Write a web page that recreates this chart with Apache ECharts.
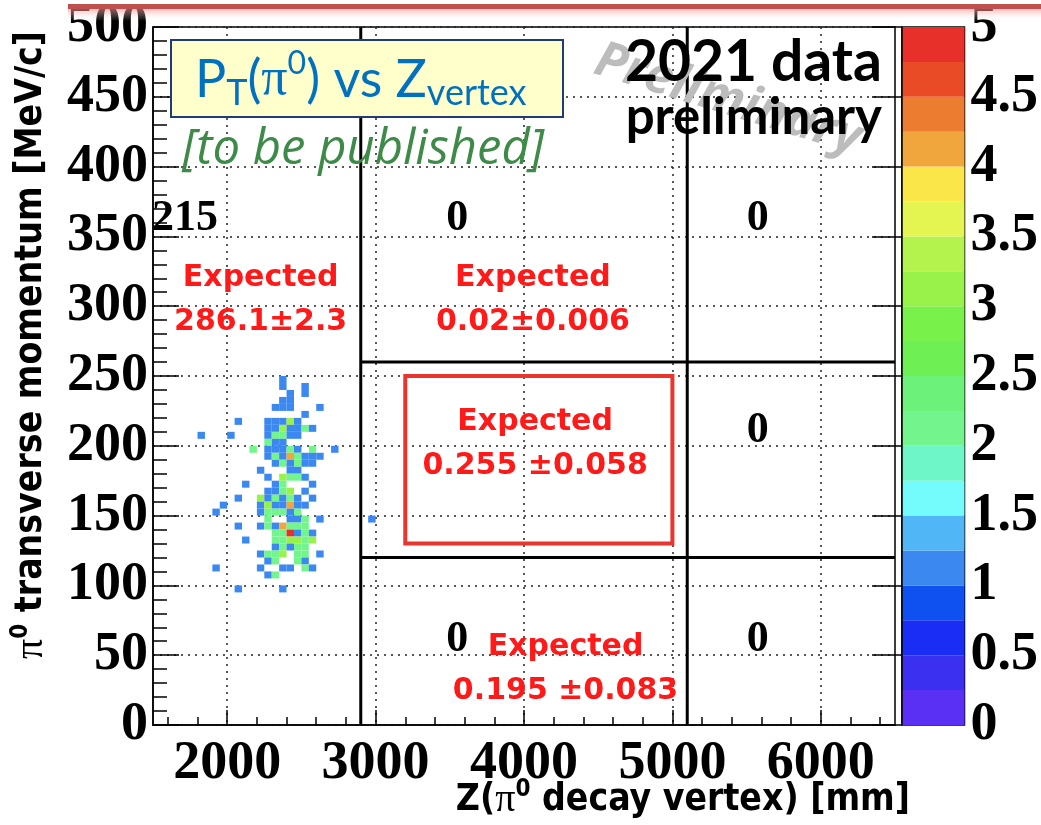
<!DOCTYPE html>
<html>
<head>
<meta charset="utf-8">
<title>PT vs Zvertex</title>
<script src="https://cdn.jsdelivr.net/npm/echarts@6.0.0/dist/echarts.min.js"></script>
<style>
  html, body { margin: 0; padding: 0; background: #fff; }
  #chart { width: 1041px; height: 825px; }
</style>
</head>
<body>
<div id="chart"></div>
<script>
// bin size of the 2D histogram
const binZ = 50;   // mm
const binPt = 5;   // MeV/c

// [Z bin low edge (mm), pT bin low edge (MeV/c), entries]
const cellCounts = [
  [2350, 245, 1],
  [2350, 240, 1], [2500, 240, 1],
  [2400, 235, 1], [2500, 235, 1],
  [2350, 230, 1], [2400, 230, 1],
  [2300, 225, 1], [2350, 225, 1], [2400, 225, 1], [2600, 225, 1],
  [2500, 220, 1],
  [2050, 215, 1], [2250, 215, 1], [2300, 215, 1], [2350, 215, 1], [2400, 215, 3], [2450, 215, 1],
  [2250, 210, 1], [2300, 210, 1], [2350, 210, 3], [2400, 210, 1], [2450, 210, 1], [2500, 210, 2], [2550, 210, 1],
  [1800, 205, 1], [2000, 205, 1], [2250, 205, 1], [2300, 205, 2], [2350, 205, 2], [2400, 205, 1], [2450, 205, 1],
  [2250, 200, 2], [2300, 200, 1], [2350, 200, 1],
  [2150, 195, 2], [2250, 195, 1], [2300, 195, 1], [2350, 195, 1], [2400, 195, 2], [2450, 195, 1], [2550, 195, 2], [2700, 195, 1],
  [2250, 190, 1], [2300, 190, 2], [2350, 190, 1], [2400, 190, 4], [2450, 190, 2], [2500, 190, 1], [2550, 190, 1], [2600, 190, 1],
  [2300, 185, 1], [2350, 185, 2], [2400, 185, 1], [2450, 185, 2], [2500, 185, 1], [2550, 185, 1],
  [2200, 180, 1], [2400, 180, 1], [2450, 180, 1],
  [2250, 175, 1], [2350, 175, 3], [2400, 175, 2], [2450, 175, 2], [2500, 175, 1],
  [2100, 170, 1], [2300, 170, 1], [2350, 170, 2], [2550, 170, 1],
  [2250, 165, 1], [2300, 165, 1], [2350, 165, 2], [2400, 165, 3], [2500, 165, 1],
  [2050, 160, 1], [2200, 160, 3], [2250, 160, 1], [2300, 160, 2], [2350, 160, 1], [2400, 160, 2], [2450, 160, 1], [2550, 160, 1],
  [1950, 155, 1], [2200, 155, 1], [2250, 155, 3], [2300, 155, 1], [2350, 155, 1], [2400, 155, 4], [2450, 155, 1], [2500, 155, 1],
  [1900, 150, 1], [2200, 150, 1], [2250, 150, 2], [2300, 150, 2], [2350, 150, 2], [2400, 150, 1], [2450, 150, 2],
  [2250, 145, 2], [2400, 145, 1], [2450, 145, 1], [2500, 145, 2], [2600, 145, 1], [2950, 145, 1],
  [2050, 140, 1], [2200, 140, 1], [2250, 140, 2], [2300, 140, 1], [2350, 140, 4], [2400, 140, 2], [2450, 140, 2], [2500, 140, 2],
  [2300, 135, 2], [2350, 135, 2], [2400, 135, 5], [2450, 135, 1], [2500, 135, 2], [2550, 135, 1],
  [2100, 130, 1], [2300, 130, 2], [2350, 130, 2], [2400, 130, 3], [2450, 130, 3], [2500, 130, 2], [2550, 130, 3],
  [2300, 125, 1], [2350, 125, 2], [2400, 125, 1], [2450, 125, 2], [2500, 125, 2],
  [2200, 120, 1], [2250, 120, 2], [2300, 120, 2], [2350, 120, 3], [2450, 120, 2], [2500, 120, 2], [2600, 120, 1],
  [2250, 115, 1], [2300, 115, 2], [2450, 115, 2], [2500, 115, 1],
  [1900, 110, 1], [2200, 110, 1], [2350, 110, 1], [2400, 110, 1], [2500, 110, 2], [2550, 110, 1],
  [2250, 105, 1], [2300, 105, 2],
  [2050, 95, 1], [2350, 95, 1]
];

// palette (0 -> 5, step 0.25)
const paletteStep = 0.25;
const paletteColors = [
  '#5a30f5', '#3b2ff0', '#1a2df5', '#0f50f0', '#3a88f0',
  '#50b6f5', '#74fbfb', '#6ef5c8', '#74f48c', '#6cf27a',
  '#6ef055', '#78f24a', '#98f24a', '#b4f24e', '#e4f552',
  '#fbe64a', '#f0a63d', '#ec7c30', '#e84b25', '#e8302a'
];

const xMajorTicks = [2000, 3000, 4000, 5000, 6000];
const xMinorTicks = [1600, 1800, 2200, 2400, 2600, 2800, 3200, 3400, 3600, 3800,
                     4200, 4400, 4600, 4800, 5200, 5400, 5600, 5800, 6200, 6400];

// region boundaries [z1, pt1, z2, pt2]
const regionLines = [
  [2900, 0, 2900, 500],
  [5100, 0, 5100, 500],
  [2900, 260, 6500, 260],
  [2900, 120, 6500, 120]
];
const signalBox = [[3200, 130, 5000, 250]];

// observed counts per region [z, pt, text]
const observedLabels = [
  [1715, 363, '215'],
  [3550, 363, '0'],
  [5575, 363, '0'],
  [5575, 211, '0'],
  [3550, 61, '0'],
  [5575, 61, '0']
];
// expected background per region [z, pt, value]
const expectedLabels = [
  [2225, 304, '286.1±2.3'],
  [4060, 304, '0.02±0.006'],
  [4075, 201, '0.255 ±0.058'],
  [4280, 40, '0.195 ±0.083']
];

const serifFont = '"Liberation Serif", "Times New Roman", serif';
const sansFont = 'Lato, "Open Sans", "DejaVu Sans", sans-serif';
const condFont = '"DejaVu Sans Condensed", "DejaVu Sans", sans-serif';

function colorFor(n) {
  const i = Math.min(paletteColors.length - 1, Math.floor(n / paletteStep));
  return paletteColors[i];
}

const chart = echarts.init(document.getElementById('chart'));

const blackLine = { color: '#000', width: 1.5 };
const dotted = { color: '#222', width: 1.5, type: [2, 5] };
const tickLabel = { color: '#000', fontFamily: serifFont, fontWeight: 'bold', fontSize: 54 };

const option = {
  animation: false,
  backgroundColor: '#fff',
  grid: [
    { left: 153, top: 26, width: 742, height: 699, show: true, borderColor: '#000', borderWidth: 1.5 },
    { left: 902, top: 26, width: 64, height: 699, show: true, borderColor: '#000', borderWidth: 1.5 }
  ],
  xAxis: [
    {
      gridIndex: 0, type: 'value', min: 1500, max: 6500, position: 'bottom',
      axisLine: { onZero: false, lineStyle: blackLine },
      axisTick: { inside: true, length: 15, customValues: xMajorTicks, lineStyle: blackLine },
      axisLabel: Object.assign({ customValues: xMajorTicks, margin: 12, formatter: v => String(v) }, tickLabel),
      splitLine: { show: true, lineStyle: dotted }
    },
    {
      gridIndex: 0, type: 'value', min: 1500, max: 6500, position: 'bottom',
      axisLine: { show: false, onZero: false },
      axisTick: { inside: true, length: 8, customValues: xMinorTicks, lineStyle: blackLine },
      axisLabel: { show: false },
      splitLine: { show: false },
      splitArea: { show: false }
    },
    { gridIndex: 1, type: 'value', min: 0, max: 1, show: false }
  ],
  yAxis: [
    {
      gridIndex: 0, type: 'value', min: 0, max: 500, interval: 50,
      axisLine: { show: true, onZero: false, lineStyle: blackLine },
      axisTick: { show: true, inside: true, length: 26, lineStyle: blackLine },
      minorTick: { show: true, splitNumber: 5, length: 14, lineStyle: blackLine },
      axisLabel: Object.assign({ margin: 5 }, tickLabel),
      splitLine: { show: true, lineStyle: dotted }
    },
    {
      gridIndex: 1, type: 'value', min: 0, max: 5, interval: 0.5, position: 'right', z: 10,
      axisLine: { show: true, lineStyle: blackLine },
      axisTick: { show: true, inside: true, length: 30, lineStyle: blackLine },
      axisLabel: Object.assign({ margin: 6 }, tickLabel),
      splitLine: { show: false }
    }
  ],
  series: [
    {
      type: 'custom', name: 'entries', xAxisIndex: 0, yAxisIndex: 0, z: 2,
      data: cellCounts,
      renderItem: function (params, api) {
        const z = api.value(0), pt = api.value(1), n = api.value(2);
        const p0 = api.coord([z, pt + binPt]);
        const p1 = api.coord([z + binZ, pt]);
        return {
          type: 'rect',
          shape: { x: p0[0], y: p0[1], width: p1[0] - p0[0], height: p1[1] - p0[1] },
          style: { fill: colorFor(n) }
        };
      }
    },
    {
      type: 'custom', name: 'regions', xAxisIndex: 0, yAxisIndex: 0, z: 3,
      data: regionLines,
      renderItem: function (params, api) {
        const a = api.coord([api.value(0), api.value(1)]);
        const b = api.coord([api.value(2), api.value(3)]);
        return {
          type: 'line',
          shape: { x1: a[0], y1: a[1], x2: b[0], y2: b[1] },
          style: { stroke: '#000', lineWidth: 3 }
        };
      }
    },
    {
      type: 'custom', name: 'signal', xAxisIndex: 0, yAxisIndex: 0, z: 3,
      data: signalBox,
      renderItem: function (params, api) {
        const a = api.coord([api.value(0), api.value(3)]);
        const b = api.coord([api.value(2), api.value(1)]);
        return {
          type: 'rect',
          shape: { x: a[0], y: a[1], width: b[0] - a[0], height: b[1] - a[1] },
          style: { fill: 'none', stroke: '#e8352d', lineWidth: 4 }
        };
      }
    },
    {
      type: 'custom', name: 'observed', xAxisIndex: 0, yAxisIndex: 0, z: 4,
      data: observedLabels.map(d => [d[0], d[1]]),
      renderItem: function (params, api) {
        const p = api.coord([api.value(0), api.value(1)]);
        return {
          type: 'text', x: p[0], y: p[1],
          style: {
            text: observedLabels[params.dataIndex][2],
            fill: '#000', align: 'center', verticalAlign: 'middle',
            font: 'bold 44px ' + serifFont
          }
        };
      }
    },
    {
      type: 'custom', name: 'expected', xAxisIndex: 0, yAxisIndex: 0, z: 4,
      data: expectedLabels.map(d => [d[0], d[1]]),
      renderItem: function (params, api) {
        const p = api.coord([api.value(0), api.value(1)]);
        return {
          type: 'text', x: p[0], y: p[1],
          style: {
            text: 'Expected\n' + expectedLabels[params.dataIndex][2],
            fill: '#ff1a1a', align: 'center', verticalAlign: 'middle',
            font: 'bold 30px "DejaVu Sans", sans-serif', lineHeight: 44
          }
        };
      }
    },
    {
      type: 'custom', name: 'palette', xAxisIndex: 2, yAxisIndex: 1, z: 2,
      data: paletteColors.map((c, i) => [i * paletteStep, (i + 1) * paletteStep]),
      renderItem: function (params, api) {
        const a = api.coord([0, api.value(1)]);
        const b = api.coord([1, api.value(0)]);
        return {
          type: 'rect',
          shape: { x: a[0], y: a[1], width: b[0] - a[0], height: b[1] - a[1] },
          style: { fill: paletteColors[params.dataIndex] }
        };
      }
    }
  ],
  graphic: [
    { type: 'rect', z: 100, shape: { x: 68, y: 4, width: 973, height: 5 }, style: { fill: '#c0504d' } },
    {
      type: 'rect', z: 100, shape: { x: 68, y: 9, width: 973, height: 12 },
      style: {
        fill: {
          type: 'linear', x: 0, y: 0, x2: 0, y2: 1,
          colorStops: [{ offset: 0, color: 'rgba(240,140,140,0.6)' }, { offset: 1, color: 'rgba(255,255,255,0)' }]
        }
      }
    },
    {
      type: 'text', z: 90, x: 728, y: 100, rotation: -0.30,
      style: {
        text: 'Preliminary', fill: '#bcbcbc', align: 'center', verticalAlign: 'middle',
        font: 'italic bold 50px "Open Sans", Lato, sans-serif'
      }
    },
    {
      type: 'text', z: 95, x: 882, y: 63,
      style: { text: '2021 data', fill: '#000', align: 'right', verticalAlign: 'middle', font: 'bold 57px ' + sansFont }
    },
    {
      type: 'text', z: 95, x: 882, y: 118,
      style: { text: 'preliminary', fill: '#000', align: 'right', verticalAlign: 'middle', font: 'bold 51px ' + sansFont }
    },
    {
      type: 'rect', z: 95, shape: { x: 171, y: 40, width: 392, height: 77 },
      style: { fill: '#ffffcc', stroke: '#1f3c77', lineWidth: 2 }
    },
    {
      type: 'text', z: 96, x: 195, y: 80,
      style: {
        text: '{b|P}{s|T}{b|(}{g|π}{p|0}{b|) vs Z}{s|vertex}',
        verticalAlign: 'middle', align: 'left',
        rich: {
          b: { fontSize: 52, fontFamily: sansFont, fill: '#0070c0' },
          g: { fontSize: 52, fontFamily: serifFont, fill: '#0070c0' },
          s: { fontSize: 36, fontFamily: sansFont, fill: '#0070c0', padding: [27, 0, 0, 0] },
          p: { fontSize: 32, fontFamily: sansFont, fill: '#0070c0', padding: [0, 0, 33, 0] }
        }
      }
    },
    {
      type: 'text', z: 95, x: 363, y: 150,
      style: {
        text: '[to be published]', fill: '#3e8a48', align: 'center', verticalAlign: 'middle',
        font: 'italic 49px "Open Sans", Lato, sans-serif'
      }
    },
    {
      type: 'text', z: 95, x: 31, y: 345, rotation: Math.PI / 2,
      style: {
        text: '{g|π}{p|0}{b| transverse momentum [MeV/c]}',
        align: 'center', verticalAlign: 'middle',
        rich: {
          b: { fontSize: 37, fontWeight: 'bold', fontFamily: condFont, fill: '#000' },
          g: { fontSize: 40, fontFamily: serifFont, fill: '#000' },
          p: { fontSize: 24, fontWeight: 'bold', fontFamily: condFont, fill: '#000', padding: [0, 0, 20, 0] }
        }
      }
    },
    {
      type: 'text', z: 95, x: 910, y: 800,
      style: {
        text: '{b|Z(}{g|π}{p|0}{b| decay vertex) [mm]}',
        align: 'right', verticalAlign: 'middle',
        rich: {
          b: { fontSize: 37, fontWeight: 'bold', fontFamily: condFont, fill: '#000' },
          g: { fontSize: 40, fontFamily: serifFont, fill: '#000' },
          p: { fontSize: 24, fontWeight: 'bold', fontFamily: condFont, fill: '#000', padding: [0, 0, 20, 0] }
        }
      }
    }
  ]
};

chart.setOption(option);
</script>
</body>
</html>
